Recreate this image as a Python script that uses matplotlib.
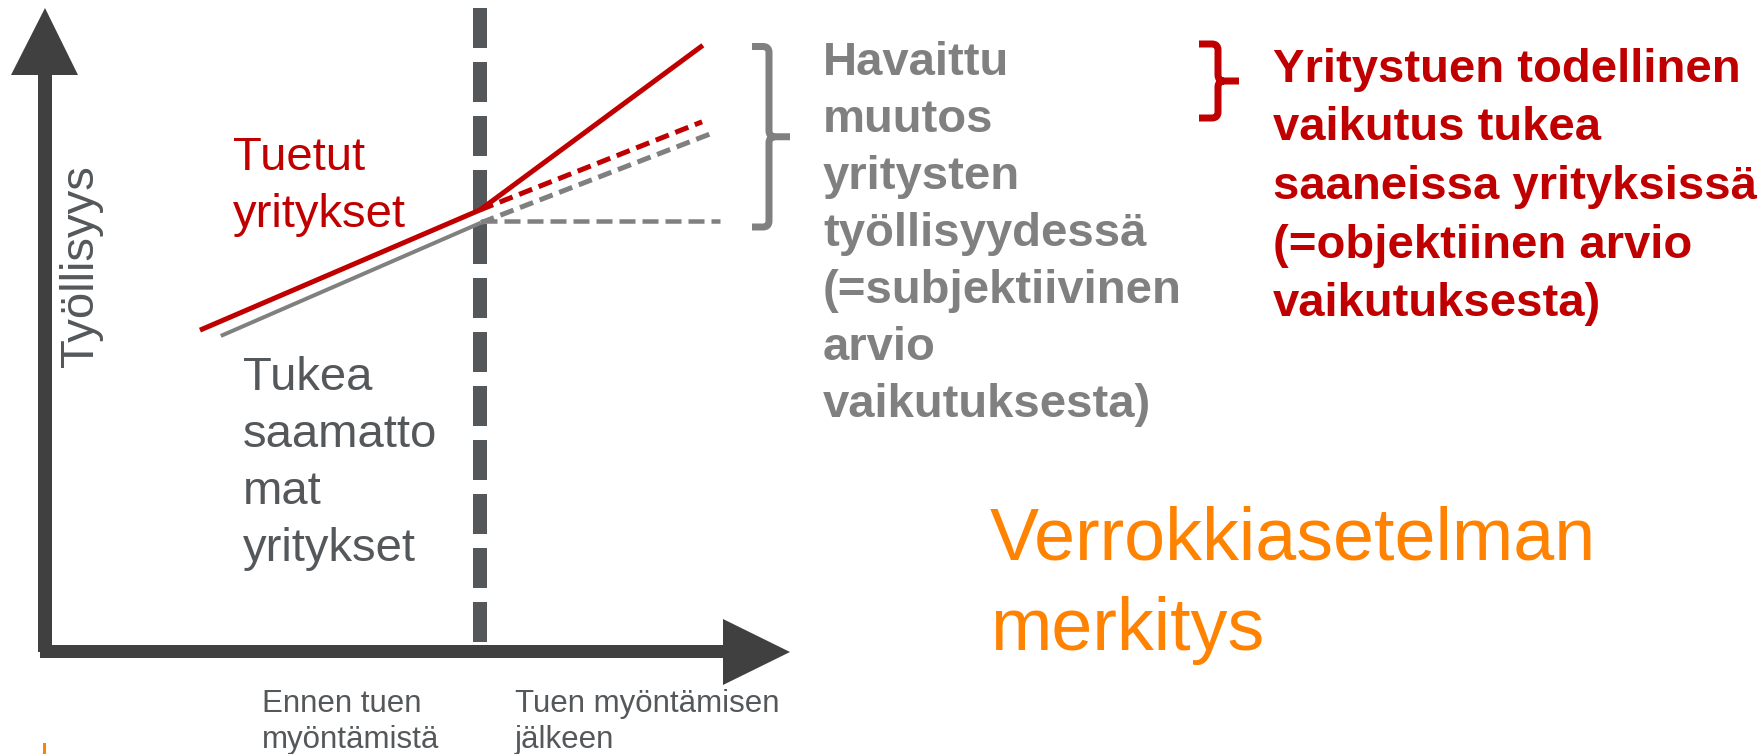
import matplotlib
matplotlib.use("Agg")
import matplotlib.pyplot as plt
from matplotlib.path import Path
from matplotlib.patches import PathPatch, Polygon, Rectangle

plt.rcParams['font.family'] = ['Liberation Sans', 'DejaVu Sans']
plt.rcParams['lines.scale_dashes'] = False

# ---------------- data (abstract units: time 0-10, employment 0-10) ----------------
grant_time = 5.84
supported_x = [2.08, 5.84, 8.83]          # Tuetut yritykset, actual path
supported_y = [4.99, 6.86, 9.42]
supported_cf_x = [5.84, 8.82]             # supported firms' trend without support
supported_cf_y = [6.86, 8.23]
control_x = [2.36, 5.85]                  # Tukea saamattomat yritykset
control_y = [4.90, 6.66]
control_cf_x = [5.85, 8.97]
control_cf_y = [6.66, 8.06]
level_x = [5.85, 9.06]                    # level at grant time
level_y = [6.69, 6.69]

y_axis_label = "Työllisyys"
supported_label = ["Tuetut", "yritykset"]
control_label = ["Tukea", "saamatto", "mat", "yritykset"]
observed_label = ["Havaittu", "muutos", "yritysten", "työllisyydessä",
                  "(=subjektiivinen", "arvio", "vaikutuksesta)"]
true_effect_label = ["Yritystuen todellinen", "vaikutus tukea",
                     "saaneissa yrityksissä", "(=objektiinen arvio",
                     "vaikutuksesta)"]
title_lines = ["Verrokkiasetelman", "merkitys"]
x_tick_labels = [["Ennen tuen", "myöntämistä"], ["Tuen myöntämisen", "jälkeen"]]

# ---------------- colours ----------------
RED = "#C00000"
GRAY = "#808080"
DARK = "#404040"
SLATE = "#54585A"
ORANGE = "#FF8200"

W, H = 1765, 754
fig = plt.figure(figsize=(W / 100, H / 100), dpi=100)

# background axes in pixel coordinates for annotations
bg = fig.add_axes([0, 0, 1, 1])
bg.set_xlim(0, W)
bg.set_ylim(H, 0)
bg.axis('off')

# chart axes
px0, px1, py_top, py_bot = 45, 790, 8, 651
ax = fig.add_axes([px0 / W, (H - py_bot) / H, (px1 - px0) / W, (py_bot - py_top) / H])
ax.set_xlim(0, 10)
ax.set_ylim(0, 10)
ax.axis('off')
ax.patch.set_alpha(0)

PT = 0.72  # px -> pt at 100 dpi

# axis arrows (pixel coords)
bg.add_patch(Rectangle((38, 75), 14, 652 - 75, color=DARK, lw=0))
bg.add_patch(Polygon([(11, 75), (78, 75), (45, 8)], closed=True, color=DARK, lw=0))
bg.add_patch(Rectangle((40, 645), 723 - 40, 13, color=DARK, lw=0))
bg.add_patch(Polygon([(723, 619), (723, 685), (790, 652)], closed=True, color=DARK, lw=0))

# divider at grant time
ypix_bottom = (py_bot - 645) / (py_bot - py_top) * 10
ax.plot([grant_time, grant_time], [10, ypix_bottom], color=SLATE, lw=14 * PT,
        dashes=(40 * PT, 14 * PT), solid_capstyle='butt', dash_capstyle='butt', zorder=1)

# series
ax.plot(control_x, control_y, color=GRAY, lw=4 * PT, solid_capstyle='butt', zorder=3)
ax.plot(level_x, level_y, color=GRAY, lw=4.5 * PT, dashes=(16 * PT, 7 * PT),
        dash_capstyle='butt', zorder=3)
ax.plot(control_cf_x, control_cf_y, color=GRAY, lw=5 * PT, dashes=(14 * PT, 7 * PT),
        dash_capstyle='butt', zorder=3)
ax.plot(supported_cf_x, supported_cf_y, color=RED, lw=5 * PT, dashes=(14 * PT, 7 * PT),
        dash_capstyle='butt', zorder=4)
ax.plot(supported_x, supported_y, color=RED, lw=5 * PT, solid_capstyle='butt', zorder=5)


def bracket(xl, xm, xt, yt, yb, color, r=6):
    ym = (yt + yb) / 2
    verts = [(xl, yt), (xm - r, yt), (xm, yt), (xm, yt + r), (xm, ym - r), (xm, ym),
             (xm + r, ym), (xt, ym),
             (xl, yb), (xm - r, yb), (xm, yb), (xm, yb - r), (xm, ym + r), (xm, ym),
             (xm + r, ym)]
    codes = [Path.MOVETO, Path.LINETO, Path.CURVE3, Path.CURVE3, Path.LINETO, Path.CURVE3,
             Path.CURVE3, Path.LINETO,
             Path.MOVETO, Path.LINETO, Path.CURVE3, Path.CURVE3, Path.LINETO, Path.CURVE3,
             Path.CURVE3]
    bg.add_patch(PathPatch(Path(verts, codes), fill=False, edgecolor=color, lw=7 * PT,
                           capstyle='butt', joinstyle='round'))


bracket(752, 769, 790, 46.5, 227, GRAY)
bracket(1199, 1218, 1239, 44, 118, RED)


def lines(x, y0, pitch, texts, **kw):
    for i, t in enumerate(texts):
        bg.text(x, y0 + i * pitch, t, ha='left', va='baseline', **kw)


lines(233, 170, 57, supported_label, fontsize=34, color=RED)
lines(243, 390, 57, control_label, fontsize=34, color=SLATE)
lines(823, 75, 57, observed_label, fontsize=34, color=GRAY, fontweight='bold')
lines(1273, 82, 58.5, true_effect_label, fontsize=34, color=RED, fontweight='bold')
lines(990, 560, 90, title_lines, fontsize=53, color=ORANGE)
lines(262, 712, 36, x_tick_labels[0], fontsize=22.5, color=SLATE)
lines(515, 712, 36, x_tick_labels[1], fontsize=22.5, color=SLATE)

bg.text(93, 367, y_axis_label, rotation=90, rotation_mode='anchor', ha='left',
        va='baseline', fontsize=34, color=SLATE)

# small orange mark at bottom-left
bg.add_patch(Rectangle((43, 743), 3, 11, color=ORANGE, lw=0))

fig.savefig("out.png", dpi=100)
